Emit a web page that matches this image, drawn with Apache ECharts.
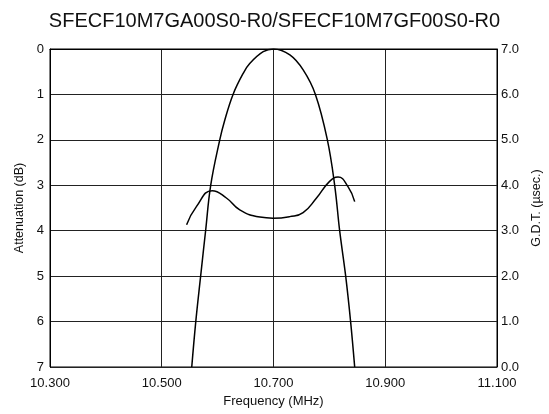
<!DOCTYPE html>
<html><head><meta charset="utf-8">
<script src="https://cdn.jsdelivr.net/npm/echarts@6/dist/echarts.min.js"></script>
<style>html,body{margin:0;padding:0;background:#fff;overflow:hidden}#c{width:549px;height:414px}</style>
</head><body><div id="c"></div>
<script>
var titleText = "SFECF10M7GA00S0-R0/SFECF10M7GF00S0-R0";
var xTicks = [10.3, 10.5, 10.7, 10.9, 11.1];
var attFreq = [10.5537, 10.5609, 10.5696, 10.5785, 10.5876, 10.6038, 10.612, 10.6276, 10.6458, 10.6578, 10.6816, 10.700, 10.7293, 10.7531, 10.775, 10.7964, 10.8095, 10.8184, 10.8292, 10.838, 10.8453];
var attDb   = [7.0,     6.0,     5.0,     4.0,     3.0,     2.0,     1.6,   1.0,     0.535,   0.315,   0.06,    0.0,    0.13,    0.46,    1.0,    2.0,     3.0,     4.0,     5.0,     6.0,    7.0];
var gdtFreq = [10.5445, 10.562, 10.5902, 10.6157, 10.6396, 10.6757, 10.699, 10.729, 10.753, 10.777, 10.800, 10.8155, 10.8333, 10.8453];
var gdtUs   = [3.13,    3.53,   3.88,    3.72,    3.46,    3.30,    3.275,  3.31,   3.40,   3.72,   4.08,   4.18,    3.97,    3.64];

function pairs(a, b){ return a.map(function(v,i){ return [v, b[i]]; }); }
var font = "Liberation Sans, Arial, sans-serif";
var chart = echarts.init(document.getElementById('c'));
chart.setOption({
  animation: false,
  backgroundColor: '#fff',
  title: { text: titleText, left: 'center', top: 6, textStyle: { fontFamily: font, fontSize: 20, fontWeight: 'normal', color: '#111' } },
  grid: { left: 50, right: 52, top: 49, bottom: 47, show: true, borderColor: '#000', borderWidth: 1, containLabel: false, outerBoundsMode: 'none' },
  xAxis: {
    type: 'value', min: 10.3, max: 11.1, interval: 0.2,
    name: 'Frequency (MHz)', nameLocation: 'middle', nameGap: 18,
    nameTextStyle: { fontFamily: font, fontSize: 13, color: '#111' },
    axisLine: { show: true, lineStyle: { color: '#000' } },
    axisTick: { show: false },
    axisLabel: { fontFamily: font, fontSize: 13, color: '#111', margin: 10, formatter: function(v){ return v.toFixed(3); } },
    splitLine: { show: true, lineStyle: { color: '#222', width: 1 } }
  },
  yAxis: [{
    type: 'value', min: 0, max: 7, interval: 1, inverse: true,
    name: 'Attenuation (dB)', nameLocation: 'middle', nameGap: 20, nameRotate: 90,
    nameTextStyle: { fontFamily: font, fontSize: 12.5, color: '#111' },
    axisLine: { show: true, lineStyle: { color: '#000' } },
    axisTick: { show: false },
    axisLabel: { fontFamily: font, fontSize: 13, color: '#111', margin: 6 },
    splitLine: { show: true, lineStyle: { color: '#222', width: 1 } }
  }, {
    type: 'value', min: 0, max: 7, interval: 1, position: 'right',
    name: 'G.D.T. (µsec.)', nameLocation: 'middle', nameGap: 25, nameRotate: 90,
    nameTextStyle: { fontFamily: font, fontSize: 12.5, color: '#111' },
    axisLine: { show: true, lineStyle: { color: '#000' } },
    axisTick: { show: false },
    axisLabel: { fontFamily: font, fontSize: 13, color: '#111', margin: 4, formatter: function(v){ return v.toFixed(1); } },
    splitLine: { show: false }
  }],
  series: [{
    type: 'line', yAxisIndex: 0, data: pairs(attFreq, attDb), smooth: 0.4, showSymbol: false,
    lineStyle: { color: '#000', width: 1.5 }
  }, {
    type: 'line', yAxisIndex: 1, data: pairs(gdtFreq, gdtUs), smooth: 0.5, showSymbol: false,
    lineStyle: { color: '#000', width: 1.5 }
  }]
});
</script></body></html>
